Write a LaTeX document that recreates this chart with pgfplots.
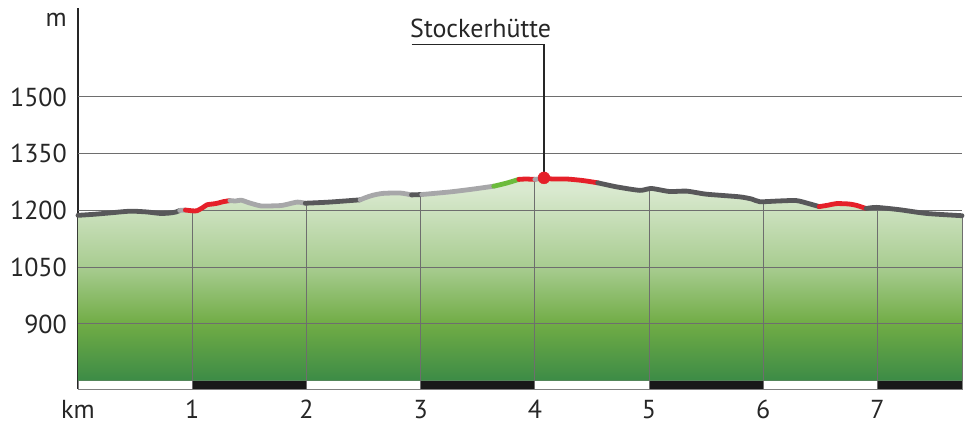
\documentclass[border=0pt]{standalone}
\usepackage{fontspec}
\setmainfont{PT Sans}
\usepackage{pgfplots}
\pgfplotsset{compat=1.18}
\definecolor{dk}{HTML}{58585A}
\definecolor{lt}{HTML}{A7A7A9}
\definecolor{rd}{HTML}{E52029}
\definecolor{gn}{HTML}{6CBB3C}
\definecolor{gridc}{HTML}{6E6E6E}
\definecolor{g1}{HTML}{3C8B46}
\definecolor{g2}{HTML}{70AC45}
\definecolor{g3}{HTML}{A8CC90}
\definecolor{g4}{HTML}{D9E9CF}
\pgfdeclareverticalshading{elev}{100bp}{color(0bp)=(g1); color(25bp)=(g1); color(39bp)=(g2); color(53bp)=(g3); color(72bp)=(g4); color(100bp)=(g4)}
\begin{document}
\begin{tikzpicture}[font=\fontsize{26}{30}\selectfont]
\path[use as bounding box] (-78pt,-37pt) rectangle (887pt,389pt);
\begin{axis}[
  at={(0,0)}, anchor=south west,
  width=884pt, height=381pt, scale only axis,
  xmin=0, xmax=7.74, ymin=728, ymax=1735,
  axis x line*=bottom, axis y line*=left,
  x axis line style={draw=none},
  y axis line style={draw=black!85, line width=2pt},
  xtick={0,1,2,3,4,5,6,7},
  xticklabels={km,1,2,3,4,5,6,7},
  ytick={900,1050,1200,1350,1500,1703},
  yticklabels={900,1050,1200,1350,1500,m},
  major tick length=0pt, tick style={draw=none},
  xticklabel style={anchor=base, inner sep=0pt, text depth=0pt, yshift=-29pt, text=black!85},
  yticklabel style={anchor=east, inner sep=0pt, xshift=-11pt, text=black!85},
  /pgf/number format/assume math mode=true,
  clip=false,
]
% distance strip
\addplot[draw=gray, fill=white, line width=0.8pt] coordinates {(0,728)(7.74,728)(7.74,750)(0,750)} -- cycle;
\addplot[draw=none, fill=black!90] coordinates {(1,728)(2,728)(2,750)(1,750)} -- cycle;
\addplot[draw=none, fill=black!90] coordinates {(3,728)(4,728)(4,750)(3,750)} -- cycle;
\addplot[draw=none, fill=black!90] coordinates {(5,728)(6,728)(6,750)(5,750)} -- cycle;
\addplot[draw=none, fill=black!90] coordinates {(7,728)(7.74,728)(7.74,750)(7,750)} -- cycle;
% elevation area
\addplot[draw=none, shade, shading=elev] coordinates {
(0,750)(0,1187)(0.15,1190)(0.30,1194)(0.46,1198)(0.60,1196)(0.72,1192)(0.80,1193)(0.86,1196)(0.89,1200)
(0.94,1201)(1.00,1199)(1.04,1199)(1.09,1207)(1.13,1215)(1.18,1217)(1.22,1219)(1.27,1223)(1.33,1226)
(1.38,1225)(1.43,1227)(1.50,1220)(1.60,1212)(1.70,1212)(1.78,1213)(1.83,1216)(1.92,1222)(1.99,1219)
(2.20,1222)(2.47,1228)(2.52,1234)(2.58,1240)(2.67,1245)(2.82,1246)(2.92,1241)(3.01,1242)
(3.26,1249)(3.45,1256)(3.64,1264)(3.75,1272)(3.86,1282)(3.92,1283)(4.00,1282)(4.05,1284)
(4.08,1286)(4.15,1283)(4.28,1283)(4.42,1279)(4.55,1273)(4.72,1262)(4.92,1253)(5.02,1258)(5.18,1250)
(5.33,1251)(5.50,1243)(5.79,1236)(5.90,1230)(5.97,1223)(6.14,1225)(6.29,1226)(6.41,1217)(6.49,1210)
(6.57,1214)(6.64,1218)(6.75,1217)(6.82,1213)(6.90,1205)(6.99,1208)(7.19,1202)(7.43,1192)(7.74,1186)(7.74,750)} -- cycle;
% grid
\addplot[gridc, line width=1.1pt] coordinates {(0,900)(7.74,900)};
\addplot[gridc, line width=1.1pt] coordinates {(0,1050)(7.74,1050)};
\addplot[gridc, line width=1.1pt] coordinates {(0,1200)(7.74,1200)};
\addplot[gridc, line width=1.1pt] coordinates {(0,1350)(7.74,1350)};
\addplot[gridc, line width=1.1pt] coordinates {(0,1500)(7.74,1500)};
\addplot[gridc, line width=1.1pt] coordinates {(1,728)(1,1199)};
\addplot[gridc, line width=1.1pt] coordinates {(2,728)(2,1219)};
\addplot[gridc, line width=1.1pt] coordinates {(3,728)(3,1242)};
\addplot[gridc, line width=1.1pt] coordinates {(4,728)(4,1282)};
\addplot[gridc, line width=1.1pt] coordinates {(5,728)(5,1257)};
\addplot[gridc, line width=1.1pt] coordinates {(6,728)(6,1224)};
\addplot[gridc, line width=1.1pt] coordinates {(7,728)(7,1207)};
\addplot[gridc, line width=0.8pt] coordinates {(7.74,750)(7.74,1186)};
% profile segments
\pgfplotsset{prof/.style={line width=4.8pt, line cap=round, line join=round, smooth, tension=0.4}}
\addplot[prof, dk] coordinates {(0,1187)(0.15,1190)(0.30,1194)(0.46,1198)(0.60,1196)(0.72,1192)(0.80,1193)(0.86,1196)(0.89,1200)};
\addplot[prof, lt] coordinates {(0.89,1200)(0.94,1201)};
\addplot[prof, rd] coordinates {(0.94,1201)(1.00,1199)(1.04,1199)(1.09,1207)(1.13,1215)(1.18,1217)(1.22,1219)(1.27,1223)(1.33,1226)};
\addplot[prof, lt] coordinates {(1.33,1226)(1.38,1225)(1.43,1227)(1.50,1220)(1.60,1212)(1.70,1212)(1.78,1213)(1.83,1216)(1.92,1222)(1.99,1219)};
\addplot[prof, dk] coordinates {(1.99,1219)(2.20,1222)(2.47,1228)};
\addplot[prof, lt] coordinates {(2.47,1228)(2.52,1234)(2.58,1240)(2.67,1245)(2.82,1246)(2.92,1241)};
\addplot[prof, dk] coordinates {(2.92,1241)(3.01,1242)};
\addplot[prof, lt] coordinates {(3.01,1242)(3.26,1249)(3.45,1256)(3.64,1264)};
\addplot[prof, gn] coordinates {(3.64,1264)(3.75,1272)(3.86,1282)};
\addplot[prof, rd] coordinates {(3.86,1282)(3.92,1283)(4.00,1282)};
\addplot[prof, lt] coordinates {(4.00,1282)(4.05,1284)};
\addplot[prof, rd] coordinates {(4.05,1284)(4.08,1286)(4.15,1283)(4.28,1283)(4.42,1279)(4.55,1273)};
\addplot[prof, dk] coordinates {(4.55,1273)(4.72,1262)(4.92,1253)(5.02,1258)(5.18,1250)(5.33,1251)(5.50,1243)(5.79,1236)(5.90,1230)(5.97,1223)(6.14,1225)(6.29,1226)(6.41,1217)(6.49,1210)};
\addplot[prof, rd] coordinates {(6.49,1210)(6.57,1214)(6.64,1218)(6.75,1217)(6.82,1213)(6.90,1205)};
\addplot[prof, dk] coordinates {(6.90,1205)(6.99,1208)(7.19,1202)(7.43,1192)(7.74,1186)};
% point of interest
\addplot[black!85, line width=1.5pt] coordinates {(2.92,1639)(4.08,1639)(4.08,1290)};
\addplot[only marks, mark=*, mark size=6pt, rd, mark options={draw=rd, fill=rd}] coordinates {(4.08,1286)};
\node[anchor=base west, inner sep=0pt, yshift=6.5pt, xshift=-1.5pt, text=black!85] at (axis cs:2.92,1639) {Stockerhütte};
\end{axis}
\end{tikzpicture}
\end{document}
